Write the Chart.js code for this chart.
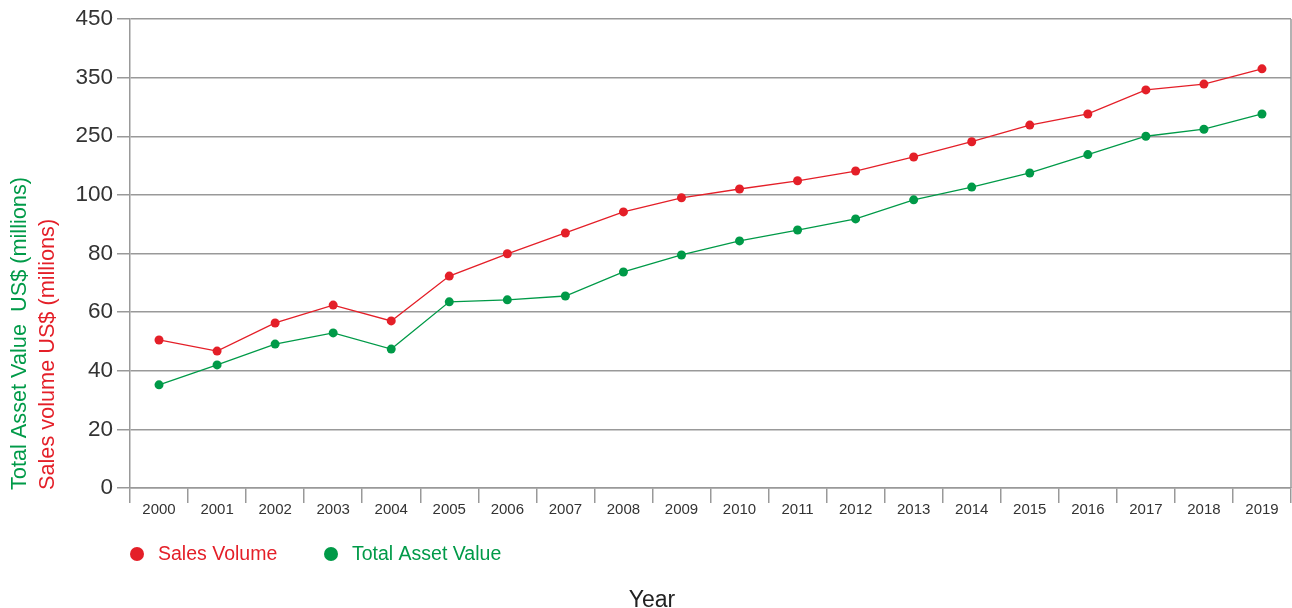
<!DOCTYPE html>
<html>
<head>
<meta charset="utf-8">
<script src="https://cdn.jsdelivr.net/npm/chart.js@4/dist/chart.umd.min.js"></script>
<style>
  html, body { margin: 0; padding: 0; background: #fff; }
  #wrap { width: 1292px; height: 608px; position: relative; }
</style>
</head>
<body>
<div id="wrap"><canvas id="chart" width="1292" height="608"></canvas></div>
<script>
// 年份
const years = ['2000','2001','2002','2003','2004','2005','2006','2007','2008','2009',
               '2010','2011','2012','2013','2014','2015','2016','2017','2018','2019'];

// 销售额 (百万美元)
const salesVolume = [50.5, 46.7, 56.3, 62.4, 57, 72.3, 79.9, 87, 94.2, 99,
                     115, 136, 161, 197, 236, 269, 288, 329, 339, 365];

// 总资产 (百万美元)
const totalAsset = [35.2, 42, 49.1, 52.9, 47.4, 63.5, 64.2, 65.5, 73.7, 79.5,
                    84.3, 88, 91.8, 98.3, 120, 156, 203, 250, 262, 288];

// y轴刻度标签 (等间距, 非线性)
const yTickLabels = [0, 20, 40, 60, 80, 100, 250, 350, 450];

const RED = '#e41f28';
const GREEN = '#009a48';
const FONT = '"Liberation Sans", Arial, sans-serif';

// 把实际值映射到等距刻度位置
function toAxis(v) {
    for (let i = 1; i < yTickLabels.length; i++) {
        const a = yTickLabels[i - 1], b = yTickLabels[i];
        if (v <= b || i === yTickLabels.length - 1) {
            return (i - 1) * 20 + (v - a) / (b - a) * 20;
        }
    }
    return v;
}

// 自定义绘制: 轴标题, 图例, 右边框
const extras = {
    id: 'extras',
    afterDraw(chart) {
        const ctx = chart.ctx;
        const area = chart.chartArea;
        ctx.save();

        // 右边框
        ctx.strokeStyle = '#999';
        ctx.lineWidth = 1.5;
        ctx.beginPath();
        ctx.moveTo(area.right, area.top);
        ctx.lineTo(area.right, area.bottom);
        ctx.stroke();

        // y轴标题 (两行)
        ctx.font = '21.7px ' + FONT;
        ctx.textBaseline = 'middle';
        ctx.textAlign = 'left';
        ctx.save();
        ctx.translate(20, 490);
        ctx.rotate(-Math.PI / 2);
        ctx.fillStyle = GREEN;
        ctx.fillText('Total Asset Value  US$ (millions)', 0, 0);
        ctx.restore();
        ctx.save();
        ctx.translate(48, 490);
        ctx.rotate(-Math.PI / 2);
        ctx.fillStyle = RED;
        ctx.fillText('Sales volume US$ (millions)', 0, 0);
        ctx.restore();

        // 图例
        const items = [
            { label: 'Sales Volume', color: RED, x: 137 },
            { label: 'Total Asset Value', color: GREEN, x: 331 }
        ];
        ctx.font = '19.5px ' + FONT;
        items.forEach(it => {
            ctx.fillStyle = it.color;
            ctx.beginPath();
            ctx.arc(it.x, 554, 7, 0, Math.PI * 2);
            ctx.fill();
            ctx.fillText(it.label, it.x + 21, 555);
        });

        // x轴标题
        ctx.fillStyle = '#222';
        ctx.font = '23px ' + FONT;
        ctx.textAlign = 'center';
        ctx.fillText('Year', 652, 601);

        ctx.restore();
    }
};

const ctx = document.getElementById('chart').getContext('2d');
new Chart(ctx, {
    type: 'line',
    data: {
        labels: years,
        datasets: [
            {
                label: 'Sales Volume',
                data: salesVolume.map(toAxis),
                borderColor: RED,
                backgroundColor: RED,
                borderWidth: 1.3,
                pointRadius: 4.5,
                pointBorderWidth: 0,
                tension: 0
            },
            {
                label: 'Total Asset Value',
                data: totalAsset.map(toAxis),
                borderColor: GREEN,
                backgroundColor: GREEN,
                borderWidth: 1.3,
                pointRadius: 4.5,
                pointBorderWidth: 0,
                tension: 0
            }
        ]
    },
    options: {
        responsive: false,
        animation: false,
        devicePixelRatio: 1,
        layout: { autoPadding: false, padding: { left: 0, right: 1, top: 19, bottom: 91 } },
        plugins: {
            legend: { display: false },
            tooltip: { enabled: false }
        },
        scales: {
            x: {
                offset: true,
                grid: {
                    offset: true,
                    drawOnChartArea: false,
                    drawTicks: true,
                    tickLength: 15,
                    color: '#999',
                    lineWidth: 1.5
                },
                border: { color: '#999', width: 1.5 },
                ticks: {
                    color: '#333',
                    font: { family: FONT, size: 15 },
                    padding: -2,
                    maxRotation: 0,
                    autoSkip: false
                }
            },
            y: {
                min: 0,
                max: 160,
                afterFit(scale) { scale.width = 130; },
                grid: {
                    color: '#999',
                    lineWidth: 1.5,
                    tickLength: 13
                },
                border: { color: '#999', width: 1.5 },
                ticks: {
                    stepSize: 20,
                    color: '#333',
                    padding: 4,
                    font: { family: FONT, size: 22.5 },
                    callback: v => yTickLabels[Math.round(v / 20)]
                }
            }
        }
    },
    plugins: [extras]
});
</script>
</body>
</html>
